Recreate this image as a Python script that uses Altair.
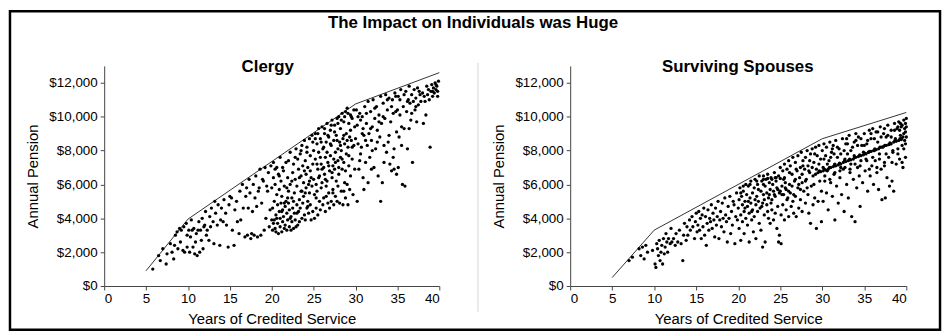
import altair as alt
import pandas as pd

# ---------------- data (years of credited service, annual pension in $ thousands) ----------------
clergy_5_10 = [[5.8,1.0],[6.5,1.8],[6.7,1.5],[7.0,2.2],[7.4,1.3],[7.5,1.9],[7.9,2.5],[8.1,2.0],[8.3,1.6],[8.4,2.4],
    [8.5,3.0],[8.7,3.2],[8.8,2.2],[9.0,3.4],[9.1,2.6],[9.2,3.3],[9.4,2.1],[9.5,3.5],[9.6,2.0],[9.8,3.7],[9.9,2.3],[9.9,3.0]]
clergy_10_15 = [[10.1,3.3],[10.2,2.0],[10.3,2.9],[10.4,3.9],[10.5,3.3],[10.6,2.3],[10.7,3.4],[10.8,1.9],[10.9,2.6],
    [11.0,3.1],[11.1,1.8],[11.2,3.3],[11.3,3.8],[11.4,2.0],[11.5,3.3],[11.6,2.7],[11.7,4.0],[11.8,2.2],[11.9,3.5],
    [12.0,3.6],[12.1,4.4],[12.2,3.0],[12.3,3.3],[12.5,2.7],[12.6,4.1],[12.7,3.5],[12.8,4.6],[13.0,3.8],[13.1,2.5],
    [13.2,5.0],[13.3,4.3],[13.5,3.6],[13.6,4.8],[13.8,2.4],[13.9,3.9],[14.0,4.6],[14.2,3.8],[14.3,5.1],[14.5,4.3],
    [14.6,3.6],[14.8,2.3],[14.9,4.8],[15.0,5.3]]
clergy_15_20 = [[15.2,5.2],[15.3,3.3],[15.5,2.4],[15.6,4.5],[15.8,5.0],[15.9,3.8],[16.1,3.1],[16.2,5.6],[16.3,3.9],
    [16.5,6.0],[16.6,4.6],[16.8,2.9],[16.9,5.3],[17.0,5.8],[17.1,3.0],[17.2,4.6],[17.3,6.3],[17.4,5.5],[17.5,2.8],
    [17.6,3.1],[17.7,4.4],[17.8,6.0],[17.9,3.0],[18.0,5.2],[18.1,6.5],[18.2,4.7],[18.3,2.9],[18.4,5.6],[18.5,5.8],
    [18.6,6.9],[18.7,3.0],[18.8,4.9],[18.9,6.3],[19.0,6.2],[19.1,3.3],[19.2,7.0],[19.3,4.0],[19.4,5.9],[19.5,5.6],
    [19.6,6.7],[19.7,3.5],[19.8,4.5],[19.9,7.1],[20.0,3.9]]
clergy_20_25 = [[20.0,5.8],[20.1,3.3],[20.1,4.6],[20.2,6.4],[20.2,7.3],[20.3,3.9],[20.3,5.0],[20.4,3.4],[20.4,6.0],
    [20.5,3.2],[20.5,4.2],[20.6,5.4],[20.6,7.0],[20.7,3.7],[20.7,4.8],[20.8,3.1],[20.8,6.6],[20.9,4.4],[20.9,5.7],
    [21.0,3.5],[21.0,4.0],[21.0,7.6],[21.1,4.9],[21.1,6.2],[21.2,3.2],[21.2,5.3],[21.3,4.5],[21.3,3.8],[21.4,4.1],
    [21.4,6.8],[21.5,3.4],[21.5,5.9],[21.6,4.7],[21.6,3.6],[21.7,5.0],[21.7,7.3],[21.8,3.3],[21.8,4.3],[21.9,6.4],
    [21.9,3.9],[22.0,4.9],[22.0,5.6],[22.1,3.5],[22.1,4.5],[22.2,7.9],[22.2,6.0],[22.3,3.3],[22.3,4.1],[22.4,5.2],
    [22.4,3.8],[22.5,6.7],[22.5,4.6],[22.6,3.4],[22.6,7.2],[22.7,5.5],[22.7,4.3],[22.8,3.9],[22.8,6.3],[22.9,3.5],
    [22.9,8.1],[23.0,4.8],[23.0,5.9],[23.1,3.6],[23.1,7.5],[23.2,4.4],[23.2,6.9],[23.3,5.1],[23.3,3.8],[23.4,7.8],
    [23.4,4.6],[23.5,5.6],[23.5,6.5],[23.6,4.0],[23.6,8.3],[23.7,4.9],[23.7,7.1],[23.8,5.3],[23.8,6.1],[23.9,4.2],
    [23.9,8.6],[24.0,3.9],[24.0,7.4],[24.1,5.8],[24.1,6.6],[24.2,4.6],[24.2,8.2],[24.3,5.0],[24.3,7.0],[24.4,4.3],
    [24.4,6.0],[24.5,8.7],[24.5,5.5],[24.6,7.7],[24.6,4.8],[24.7,6.4],[24.7,3.9],[24.8,8.9],[24.8,5.9],[24.9,7.2],
    [24.9,4.4],
    [20.2,3.7],[20.6,4.0],[21.2,4.4],[21.5,4.9],[21.9,5.2],[22.2,4.0],[22.6,5.0],[23.0,4.3],[23.3,6.4],[23.6,5.6],
    [24.0,5.5],[24.3,4.7],[24.6,6.8],[20.4,6.9],[21.3,7.0],[22.0,7.4],[22.8,7.6],[23.5,8.0],[24.2,7.9],[24.9,8.5],
    [20.9,6.5],[21.8,5.8],[22.4,6.2],[23.9,6.8],[24.5,6.2]]
clergy_25_30 = [[25.0,6.3],[25.0,8.0],[25.1,4.0],[25.1,5.4],[25.2,7.5],[25.2,9.0],[25.3,6.0],[25.3,4.6],[25.4,8.4],
    [25.4,5.6],[25.5,6.9],[25.5,4.2],[25.6,7.9],[25.6,9.3],[25.7,5.0],[25.7,6.5],[25.8,8.7],[25.8,4.5],[25.9,7.2],
    [25.9,5.8],[26.0,9.4],[26.0,6.1],[26.1,4.8],[26.1,8.1],[26.2,7.0],[26.2,5.2],[26.3,9.0],[26.3,6.6],[26.4,4.4],
    [26.4,7.6],[26.5,8.5],[26.5,5.9],[26.6,6.2],[26.6,9.6],[26.7,4.9],[26.7,7.3],[26.8,8.8],[26.8,5.5],[26.9,6.8],
    [26.9,4.6],[27.0,9.2],[27.0,7.7],[27.1,5.0],[27.1,8.3],[27.2,6.4],[27.2,9.8],[27.3,5.7],[27.3,7.1],[27.4,8.6],
    [27.4,4.8],[27.5,6.9],[27.5,9.5],[27.6,5.3],[27.6,7.9],[27.7,8.9],[27.7,6.2],[27.8,5.0],[27.8,9.9],[27.9,7.4],
    [27.9,8.1],[28.0,6.6],[28.0,10.0],[28.1,4.9],[28.1,8.5],[28.2,7.6],[28.2,9.3],[28.3,5.6],[28.3,8.0],[28.4,6.9],
    [28.4,10.2],[28.5,4.8],[28.5,8.7],[28.6,7.3],[28.6,9.7],[28.7,6.1],[28.7,8.4],[28.8,5.2],[28.8,10.3],[28.9,7.8],
    [28.9,9.0],[29.0,6.0],[29.0,10.5],[29.1,8.2],[29.1,4.8],[29.2,7.1],[29.2,9.6],[29.3,8.8],[29.4,6.5],[29.4,10.1],
    [29.5,8.6],[29.6,7.5],[29.6,9.9],[29.7,5.4],[29.8,8.3],[29.8,10.4],[29.9,6.9],[29.9,9.4],
    [25.2,8.7],[25.5,9.0],[25.9,8.5],[26.3,9.3],[26.7,8.9],[27.1,9.5],[27.5,9.1],[27.9,9.6],[28.3,9.8],[28.7,10.0],
    [29.1,10.2],[29.5,10.0],[25.4,7.2],[25.8,7.6],[26.2,8.2],[26.6,7.9],[27.0,8.4],[27.4,7.5],[27.8,8.6],[28.2,8.3],
    [28.6,8.9],[29.0,8.6],[29.4,9.2],[25.6,6.4],[26.0,6.9],[26.4,6.3],[26.8,7.1],[27.2,6.7],[27.6,7.3],[28.0,7.0],
    [28.4,7.5],[28.8,6.8],[29.2,7.7],[29.6,8.2],[25.3,5.2],[26.5,5.3],[27.3,5.5],[28.6,5.6],[29.3,5.7],[27.9,5.9]]
clergy_30_35 = [[30.0,8.7],[30.1,10.4],[30.2,5.0],[30.2,9.5],[30.3,8.4],[30.4,6.9],[30.5,10.2],[30.6,9.8],[30.6,7.8],
    [30.7,8.2],[30.8,10.0],[30.9,9.3],[31.0,5.7],[31.0,8.9],[31.1,10.6],[31.2,7.3],[31.3,9.6],[31.4,8.3],[31.5,10.9],
    [31.5,6.1],[31.6,9.0],[31.7,7.6],[31.8,10.3],[31.9,8.6],[32.0,9.4],[32.1,11.0],[32.2,7.0],[32.3,9.9],[32.4,8.1],
    [32.5,10.6],[32.6,9.2],[32.7,6.5],[32.8,10.1],[32.9,8.8],[33.0,5.0],[33.0,11.2],[33.1,9.6],[33.2,6.1],[33.3,10.8],
    [33.4,8.3],[33.5,9.9],[33.6,11.3],[33.7,7.9],[33.8,10.4],[33.9,8.5],[34.0,11.1],[34.1,7.2],[34.2,9.7],[34.3,6.8],
    [34.4,11.0],[34.5,7.6],[34.5,10.2],[34.6,8.1],[34.7,11.4],[34.8,10.3],[34.9,9.1],
    [30.3,10.0],[30.8,9.0],[31.3,10.2],[31.8,9.3],[32.3,10.5],[32.8,9.7],[33.3,10.0],[33.8,11.0],[34.3,10.6],
    [34.8,11.2],[30.5,7.4],[31.2,8.6],[32.0,8.0],[32.6,8.5],[33.4,7.3],[34.0,8.9],[30.9,6.4],[31.9,6.9],[34.9,6.6],
    [34.6,6.9]]
clergy_35_40 = [[35.0,10.4],[35.1,11.2],[35.2,8.8],[35.3,10.1],[35.4,11.6],[35.5,9.4],[35.6,6.0],[35.7,10.6],
    [35.8,9.3],[35.9,5.9],[36.0,11.5],[36.1,10.3],[36.2,8.1],[36.3,11.0],[36.4,11.8],[36.5,10.8],[36.6,9.8],
    [36.7,11.3],[36.8,7.3],[36.9,10.9],[37.0,11.6],[37.1,10.4],[37.2,11.1],[37.4,11.7],[37.5,10.7],[37.7,11.3],
    [37.8,10.9],[38.0,11.4],[38.1,9.6],[38.2,11.2],[38.4,10.1],[38.5,11.8],[38.6,11.3],[38.8,11.0],[38.9,8.2],
    [39.0,11.5],[39.1,11.9],[39.2,11.2],[39.3,11.7],[39.4,11.4],[39.5,12.0],[39.6,11.6],[39.7,11.8],[39.8,11.5],
    [39.9,12.1],
    [35.3,11.0],[35.8,11.3],[36.2,10.9],[36.7,10.2],[37.2,10.6],[37.6,11.5],[38.3,10.9],[38.7,11.6],[39.2,11.5],
    [39.6,11.9],[39.8,11.2],[35.5,8.3],[36.4,9.3],[37.3,9.7],[35.1,7.0]]
clergy_max_years = [5, 10, 30, 40]
clergy_max_pension = [0.9, 3.95, 10.75, 12.6]

spouse_5_15 = [[7.0,1.5],[7.4,1.7],[8.2,2.2],[8.4,1.8],[8.6,2.3],[8.8,1.6],[9.0,2.4],[9.2,2.0],[9.8,2.1],[10.1,1.3],
    [10.2,1.1],[10.3,2.5],[10.4,2.2],[10.5,1.8],[10.6,2.7],[10.7,1.5],[10.8,2.0],[10.9,2.4],[11.0,1.3],[11.1,2.8],
    [11.2,1.9],[11.3,2.3],[11.4,3.1],[11.5,2.6],[11.6,2.0],[11.7,2.8],[11.9,2.5],[12.0,3.4],[12.1,2.6],[12.3,2.8],
    [12.5,2.4],[12.6,3.1],[12.8,2.6],[13.0,3.3],[13.2,2.5],[13.4,1.5],[13.5,3.0],[13.6,3.7],[13.8,2.7],[13.9,3.5],
    [14.0,3.0],[14.2,3.9],[14.3,3.3],[14.5,4.1],[14.6,3.5],[14.8,2.8],[14.9,3.8]]
spouse_15_20 = [[15.0,4.3],[15.1,3.2],[15.2,3.6],[15.3,4.4],[15.4,3.3],[15.5,4.0],[15.6,2.8],[15.7,4.2],[15.8,3.5],
    [15.9,4.6],[16.0,3.0],[16.1,4.1],[16.2,2.4],[16.3,3.7],[16.4,4.5],[16.5,3.3],[16.6,4.0],[16.7,3.8],[16.8,4.8],
    [16.9,3.4],[17.0,4.3],[17.1,3.9],[17.2,2.9],[17.3,4.6],[17.4,3.6],[17.5,4.1],[17.6,5.0],[17.7,2.8],[17.8,3.9],
    [17.9,4.4],[18.0,3.5],[18.1,4.9],[18.2,4.0],[18.3,3.2],[18.4,5.2],[18.5,4.2],[18.6,3.8],[18.7,2.6],[18.8,4.7],
    [18.9,4.0],[19.0,5.3],[19.1,3.1],[19.2,4.4],[19.3,3.6],[19.4,5.0],[19.5,4.8],[19.6,2.5],[19.7,4.1],[19.8,5.5],
    [19.9,3.9]]
spouse_20_25 = [[20.0,4.6],[20.1,5.1],[20.1,3.4],[20.2,5.8],[20.3,4.2],[20.3,2.7],[20.4,5.3],[20.5,4.8],[20.5,3.8],
    [20.6,5.6],[20.7,4.4],[20.7,3.1],[20.8,5.0],[20.9,6.0],[20.9,4.0],[21.0,5.4],[21.1,3.6],[21.1,4.7],[21.2,5.9],
    [21.3,2.6],[21.3,4.3],[21.4,5.2],[21.5,4.9],[21.5,6.2],[21.6,3.9],[21.7,5.5],[21.7,4.5],[21.8,3.2],[21.9,5.8],
    [21.9,4.1],[22.0,6.3],[22.1,4.8],[22.1,2.8],[22.2,5.3],[22.3,4.4],[22.3,6.0],[22.4,5.0],[22.5,3.7],[22.5,6.5],
    [22.6,4.6],[22.7,5.6],[22.7,3.3],[22.8,6.2],[22.9,4.9],[22.9,2.3],[23.0,5.4],[23.0,6.5],[23.1,4.2],[23.2,5.9],
    [23.2,2.6],[23.3,6.3],[23.4,4.8],[23.4,5.5],[23.5,6.6],[23.6,4.0],[23.6,5.2],[23.7,6.1],[23.8,3.7],[23.8,5.7],
    [23.9,6.4],[24.0,4.5],[24.0,5.1],[24.1,6.0],[24.2,3.9],[24.2,5.6],[24.3,6.7],[24.4,4.3],[24.4,5.3],[24.5,6.2],
    [24.6,3.4],[24.6,5.8],[24.7,4.7],[24.8,6.5],[24.8,2.6],[24.9,5.5],[24.9,3.0],
    [20.3,5.5],[20.8,4.6],[21.2,5.0],[21.6,4.4],[22.0,5.1],[22.4,5.7],[22.8,4.7],[23.1,5.1],[23.5,4.4],[23.9,4.9],
    [24.3,5.4],[24.7,5.7],[20.6,5.9],[21.4,6.0],[22.2,6.2],[23.0,6.0],[23.7,5.4],[24.4,6.4]]
spouse_25_30 = [[25.0,5.6],[25.0,7.0],[25.1,4.2],[25.1,2.5],[25.2,5.9],[25.3,6.8],[25.3,4.8],[25.4,5.4],[25.5,7.2],
    [25.5,3.9],[25.6,6.1],[25.7,5.7],[25.7,4.5],[25.8,6.9],[25.9,5.2],[26.0,7.4],[26.0,4.1],[26.1,6.0],[26.2,5.5],
    [26.2,7.1],[26.3,4.7],[26.4,6.6],[26.5,5.0],[26.5,7.6],[26.6,4.3],[26.7,6.2],[26.8,7.3],[26.8,5.3],[26.9,4.1],
    [27.0,6.8],[27.1,5.8],[27.1,7.7],[27.2,4.6],[27.3,6.4],[27.4,7.0],[27.4,5.1],[27.5,7.9],[27.6,4.4],[27.6,6.1],
    [27.7,7.4],[27.8,5.6],[27.9,6.9],[28.0,4.9],[28.0,7.6],[28.1,6.3],[28.2,8.0],[28.3,5.4],[28.3,7.1],[28.4,4.3],
    [28.5,6.7],[28.6,7.8],[28.6,3.7],[28.7,5.9],[28.8,8.1],[28.9,6.5],[28.9,4.8],[29.0,7.3],[29.1,5.2],[29.2,8.2],
    [29.3,3.4],[29.3,6.9],[29.4,7.7],[29.5,5.0],[29.6,8.3],[29.7,6.2],[29.8,7.5],[29.9,5.6],[29.9,3.8],
    [25.2,5.4],[25.6,5.8],[26.0,5.6],[26.4,5.9],[26.8,6.3],[27.2,6.0],[27.6,6.6],[28.0,6.2],[28.4,6.8],[28.8,7.0],
    [29.2,6.6],[29.6,7.2],[25.4,6.3],[26.1,6.7],[26.9,6.9],[27.7,7.1],[28.5,7.4],[29.1,7.8],[25.8,5.1],[26.6,5.4],
    [27.4,5.7],[28.2,5.8],[29.0,6.0]]
spouse_30_35 = [[30.0,8.0],[30.1,5.0],[30.1,7.0],[30.2,8.4],[30.3,6.2],[30.4,7.7],[30.5,5.5],[30.5,8.2],[30.6,6.8],
    [30.7,4.5],[30.8,7.4],[30.9,8.5],[31.0,6.1],[31.1,7.9],[31.2,5.3],[31.3,8.3],[31.4,6.6],[31.5,3.9],[31.5,7.2],
    [31.6,8.6],[31.7,5.9],[31.8,7.6],[31.9,4.9],[32.0,8.1],[32.1,6.4],[32.2,7.0],[32.3,5.4],[32.4,8.7],[32.5,6.9],
    [32.6,4.4],[32.7,7.5],[32.8,8.4],[32.9,6.0],[33.0,7.8],[33.1,5.2],[33.2,8.9],[33.3,6.7],[33.4,7.2],[33.5,4.1],
    [33.6,8.2],[33.7,6.3],[33.8,7.7],[33.9,3.8],[34.0,8.6],[34.1,5.8],[34.2,7.0],[34.3,8.8],[34.4,6.5],[34.5,4.7],
    [34.6,7.4],[34.7,8.3],[34.8,6.1],[34.9,7.9],
    [30.2,7.5],[30.6,7.2],[31.0,7.6],[31.4,7.8],[31.8,8.2],[32.2,7.8],[32.6,8.0],[33.0,8.4],[33.4,8.0],[33.8,8.5],
    [34.2,8.3],[34.6,8.7],[30.3,6.5],[30.9,6.3],[31.5,6.7],[32.1,6.8],[32.7,7.0],[33.3,6.9],[33.9,7.2],[34.5,7.1],
    [31.2,8.1],[32.9,8.7],[34.0,9.0]]
spouse_35_40 = [[35.0,9.0],[35.1,6.8],[35.2,7.5],[35.3,8.4],[35.4,5.6],[35.5,7.9],[35.6,9.2],[35.7,6.5],[35.8,8.7],
    [35.9,7.1],[36.0,9.3],[36.1,6.0],[36.2,8.0],[36.3,7.4],[36.4,9.1],[36.5,6.7],[36.6,8.5],[36.7,5.7],[36.8,7.8],
    [36.9,9.4],[37.0,6.9],[37.1,5.1],[37.2,8.2],[37.3,9.0],[37.4,7.3],[37.5,5.2],[37.6,8.8],[37.7,6.4],[37.8,9.5],
    [37.9,7.6],[38.0,5.9],[38.1,8.4],[38.2,9.2],[38.3,6.2],[38.4,7.9],[38.5,5.6],[38.6,9.6],[38.7,8.7],[38.8,7.2],
    [38.9,9.3],[39.0,8.1],[39.1,9.7],[39.2,7.5],[39.3,8.9],[39.4,9.4],[39.5,8.3],[39.6,7.0],[39.7,9.8],[39.8,8.6],
    [39.9,7.6],[39.9,9.1],[40.0,9.9],[40.0,8.8],[39.5,9.5],[39.6,8.8],[39.7,9.0],[39.8,9.3],[39.9,8.4],[39.4,8.7],
    [39.2,9.2],
    [35.0,8.3],[35.4,8.6],[35.8,9.0],[36.2,8.7],[36.6,9.1],[37.0,8.8],[37.4,9.3],[37.8,8.9],[38.2,8.8],[38.6,9.2],
    [39.0,9.4],[39.3,9.6],[35.3,7.4],[36.0,7.6],[36.8,7.5],[37.6,7.8],[38.4,8.0],[39.0,7.8],[35.6,6.9],[36.5,7.0],
    [37.4,7.1],[38.3,7.3],[39.5,7.3],[39.7,8.1],[39.9,9.6],[40.0,9.4]]
spouse_full_band = [[23.0,6.3],[23.5,6.35],[24.0,6.3],[24.5,6.4],[25.0,6.35],[25.5,6.4],
    [29.5,6.7],[29.8,6.75],
    [30.1,6.8],[30.4,6.85],[30.7,6.9],[31.0,7.0],[31.3,7.05],[31.6,7.1],[31.9,7.15],[32.2,7.2],[32.5,7.3],[32.8,7.35],
    [33.1,7.4],[33.4,7.45],[33.7,7.5],[34.0,7.6],[34.3,7.65],[34.6,7.7],[34.9,7.75],[35.2,7.8],[35.5,7.9],[35.8,7.95],
    [36.1,8.0],[36.4,8.05],[36.7,8.1],[37.0,8.2],[37.3,8.25],[37.6,8.3],[37.9,8.35],[38.2,8.4],[38.5,8.5],[38.8,8.55],
    [39.1,8.6],[39.4,8.65],
    [29.65,6.8],[30.25,6.9],[30.85,7.0],[31.45,7.15],[32.05,7.25],[32.65,7.4],[33.25,7.5],[33.85,7.6],[34.45,7.75],
    [35.05,7.85],[35.65,7.95],[36.25,8.1],[36.85,8.2],[37.45,8.3],[38.05,8.45],[38.65,8.6],[39.25,8.7]]
spouse_max_years = [5, 10, 30, 40]
spouse_max_pension = [0.5, 3.3, 8.7, 10.25]

y_ticks = [0, 2000, 4000, 6000, 8000, 10000, 12000]
x_ticks = [0, 5, 10, 15, 20, 25, 30, 35, 40]

main_title = "The Impact on Individuals was Huge"
panel_titles = ["Clergy", "Surviving Spouses"]


def to_df(rows):
    df = pd.DataFrame(rows, columns=["years", "k"])
    df["pension"] = df["k"] * 1000
    return df


clergy = to_df(clergy_5_10 + clergy_10_15 + clergy_15_20 + clergy_20_25 + clergy_25_30 + clergy_30_35 + clergy_35_40)
spouse = to_df(spouse_5_15 + spouse_15_20 + spouse_20_25 + spouse_25_30 + spouse_30_35 + spouse_35_40 + spouse_full_band)
clergy_max = to_df(list(zip(clergy_max_years, clergy_max_pension)))
spouse_max = to_df(list(zip(spouse_max_years, spouse_max_pension)))

AX = "#444444"
x_enc = alt.X("years:Q", scale=alt.Scale(domain=[0, 40], nice=False),
              axis=alt.Axis(values=x_ticks, title="Years of Credited Service", grid=False,
                            domainColor=AX, tickColor=AX, tickSize=4, labelPadding=2,
                            labelFontSize=13.5, titleFontSize=15, titleFontWeight="normal",
                            labelColor="black", titleColor="black", titlePadding=6))
y_enc = alt.Y("pension:Q", scale=alt.Scale(domain=[0, 13000], nice=False),
              axis=alt.Axis(values=y_ticks, format="$,.0f", title="Annual Pension", grid=False,
                            domainColor=AX, tickColor=AX, tickSize=4, labelPadding=3,
                            labelFontSize=13.5, titleFontSize=15, titleFontWeight="normal",
                            labelColor="black", titleColor="black", titlePadding=8))

one = pd.DataFrame({"a": [0]})


def heading(text, x, y, size):
    return alt.Chart(one).mark_text(fontSize=size, fontWeight="bold", color="black", align="center",
                                    baseline="middle").encode(
        x=alt.value(x), y=alt.value(y), text=alt.value(text))


def panel(pts, mx, width, extra):
    line = alt.Chart(mx).mark_line(color="#333333", strokeWidth=1).encode(x=x_enc, y=y_enc)
    dots = alt.Chart(pts).mark_circle(color="black", size=11, opacity=1).encode(x=x_enc, y=y_enc)
    return alt.layer(*extra, line, dots).properties(width=width, height=222)


frame = alt.Chart(one).mark_rect(filled=False, stroke="black", strokeWidth=2.5).encode(
    x=alt.value(-95), x2=alt.value(843), y=alt.value(-55), y2=alt.value(266))
divider = alt.Chart(one).mark_rule(color="#d4d4d4", strokeWidth=1).encode(
    x=alt.value(-93), y=alt.value(-3), y2=alt.value(248))

left = panel(clergy, clergy_max, 338,
             [frame, heading(main_title, 372, -43, 17), heading(panel_titles[0], 165, 1, 17)])
right = panel(spouse, spouse_max, 339, [divider, heading(panel_titles[1], 169, 1, 17)])

chart = alt.hconcat(left, right, spacing=132, bounds="flush").properties(
    padding=0,
).configure(font="Liberation Sans").configure_view(stroke=None)

chart.save("out.html", embed_options={"renderer": "svg", "actions": False})
